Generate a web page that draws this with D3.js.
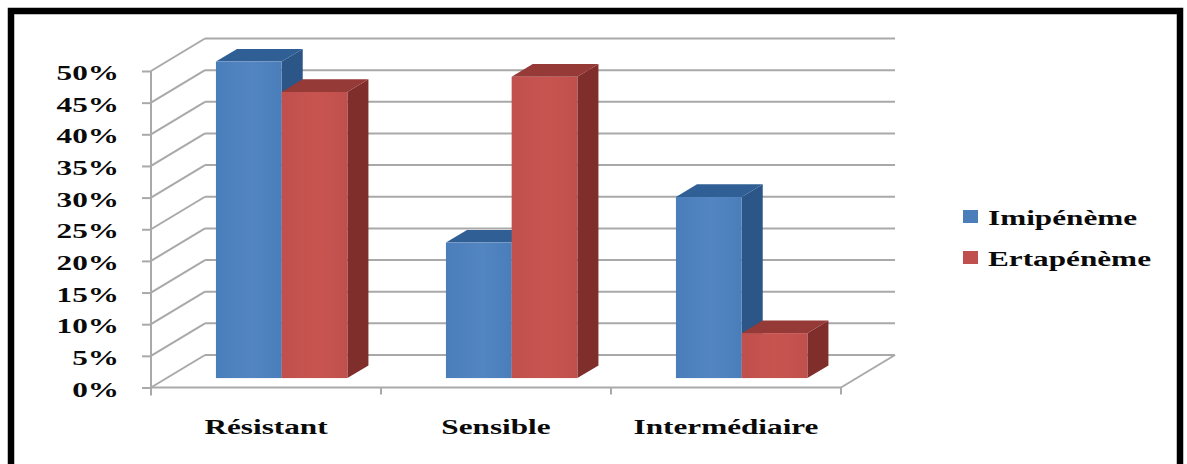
<!DOCTYPE html>
<html lang="fr">
<head>
<meta charset="utf-8">
<script src="https://cdn.jsdelivr.net/npm/d3@7/dist/d3.min.js"></script>
<style>
  html, body { margin: 0; padding: 0; background: #fff; }
  svg { display: block; }
  text { font-family: "Liberation Serif", serif; font-weight: 700; fill: #0a0a0a; }
</style>
</head>
<body>
<svg id="chart" width="1187" height="464"></svg>
<script>
// Résistance aux carbapénèmes, en pourcentage
const categories = ["Résistant", "Sensible", "Intermédiaire"];
const seriesNames = ["Imipénème", "Ertapénème"];
const imipenemeValues = [50, 21.4, 28.6];
const ertapenemeValues = [45.2, 47.6, 7.1];
const yTicks = [0, 5, 10, 15, 20, 25, 30, 35, 40, 45, 50];

const frontColors = ["#4a7ebb", "#c0504d"];
const frontLightColors = ["#5285c2", "#c8544f"];
const topColors = ["#305f96", "#953a37"];
const sideColors = ["#2b5687", "#7f2e2c"];

const svg = d3.select("#chart");

// Front plane of the 3D box, plus the oblique offset of its back wall
const box = { left: 151, right: 841, top: 71, bottom: 387.5, depthX: 54, depthY: -32.5 };
// The bars sit between these two fractions of the box depth
const barDepth = { front: 0.29, back: 0.68 };
const wideText = 1.42;   // horizontal stretch of all labels
const fontSize = 22;

const x = d3.scaleBand().domain(categories).range([box.left, box.right]);
const xSeries = d3.scaleBand().domain(seriesNames).range([0, x.bandwidth()]).paddingOuter(0.75).paddingInner(0);
const y = d3.scaleLinear().domain([0, 50]).range([box.bottom, box.top]);
const pct = d3.format("d");

const ink = "#a9a9a9";
const stroke = (sel) => sel.attr("stroke", ink).attr("stroke-width", 2).attr("fill", "none");

// Border
svg.append("rect").attr("x", 11).attr("y", 11).attr("width", 1169).attr("height", 470)
  .attr("fill", "#fff").attr("stroke", "#000").attr("stroke-width", 6.5);

// Gridlines on the back wall and oblique lines on the side wall
const grid = svg.append("g");
grid.selectAll("line.back").data(yTicks).join("line").attr("class", "back")
  .attr("x1", box.left + box.depthX).attr("x2", box.right + box.depthX)
  .attr("y1", d => y(d) + box.depthY).attr("y2", d => y(d) + box.depthY).call(stroke);
grid.selectAll("line.side").data(yTicks).join("line").attr("class", "side")
  .attr("x1", box.left).attr("x2", box.left + box.depthX)
  .attr("y1", d => y(d)).attr("y2", d => y(d) + box.depthY).call(stroke);

// Floor edge on the right
grid.append("line").attr("x1", box.right).attr("y1", box.bottom)
  .attr("x2", box.right + box.depthX).attr("y2", box.bottom + box.depthY).call(stroke);

// Value axis
const yAxis = svg.append("g").attr("transform", `translate(${box.left},0)`)
  .call(d3.axisLeft(y).tickValues(yTicks).tickSize(9).tickFormat(""));
yAxis.select(".domain").remove();
yAxis.selectAll("line").attr("stroke", ink).attr("stroke-width", 2);
svg.append("line").attr("x1", box.left).attr("x2", box.left)
  .attr("y1", box.top).attr("y2", box.bottom + 8).call(stroke);

// Category axis
svg.append("line").attr("x1", box.left).attr("x2", box.right)
  .attr("y1", box.bottom).attr("y2", box.bottom).call(stroke);
svg.selectAll("line.xtick").data(x.domain().map(d => x(d)).concat(box.right)).join("line")
  .attr("class", "xtick").attr("x1", d => d).attr("x2", d => d)
  .attr("y1", box.bottom).attr("y2", box.bottom + 7).call(stroke);

// Stretched text helper
function label(parent, px, py, anchor, str) {
  return parent.append("text")
    .attr("transform", `translate(${px},${py}) scale(${wideText},1)`)
    .attr("text-anchor", anchor).attr("font-size", fontSize).text(str);
}

// Value labels
yTicks.forEach(d => label(svg, 119, y(d) + 9, "end", pct(d) + "%"));

// Category labels
categories.forEach(c => label(svg, x(c) + x.bandwidth() / 2, 434, "middle", c));

// Front-face gradients
const defs = svg.append("defs");
seriesNames.forEach((s, i) => {
  const g = defs.append("linearGradient").attr("id", "front" + i);
  g.append("stop").attr("offset", "0%").attr("stop-color", frontColors[i]);
  g.append("stop").attr("offset", "55%").attr("stop-color", frontLightColors[i]);
  g.append("stop").attr("offset", "100%").attr("stop-color", frontColors[i]);
});

// One prism per value, drawn blue first so red overlaps it
const rows = [imipenemeValues, ertapenemeValues];
const poly = d3.line();
const bars = svg.append("g");
categories.forEach((c, ci) => {
  seriesNames.forEach((s, si) => {
    const value = rows[si][ci];
    const x0 = x(c) + xSeries(s) + box.depthX * barDepth.front;
    const x1 = x0 + xSeries.bandwidth();
    const yBase = box.bottom + box.depthY * barDepth.front;
    const h = box.bottom - y(value);
    const yTop = yBase - h;
    const dx = box.depthX * (barDepth.back - barDepth.front);
    const dy = box.depthY * (barDepth.back - barDepth.front);

    bars.append("path").attr("fill", sideColors[si])
      .attr("d", poly([[x1, yBase], [x1 + dx, yBase + dy], [x1 + dx, yTop + dy], [x1, yTop]]) + "Z");
    bars.append("path").attr("fill", topColors[si])
      .attr("d", poly([[x0, yTop], [x0 + dx, yTop + dy], [x1 + dx, yTop + dy], [x1, yTop]]) + "Z");
    bars.append("rect").attr("x", x0).attr("y", yTop)
      .attr("width", xSeries.bandwidth()).attr("height", h).attr("fill", `url(#front${si})`);
  });
});

// Legend
const legendRows = d3.scaleOrdinal().domain(seriesNames).range([225, 266]);
seriesNames.forEach((s, i) => {
  svg.append("rect").attr("x", 963).attr("y", legendRows(s) - 15)
    .attr("width", 15).attr("height", 13).attr("fill", frontColors[i]);
  label(svg, 988, legendRows(s), "start", s);
});
</script>
</body>
</html>
